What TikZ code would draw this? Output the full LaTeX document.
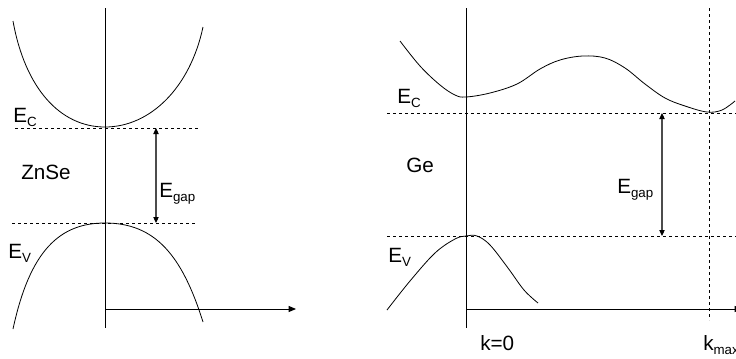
\documentclass[tikz,border=0pt]{standalone}
\usepackage{fontspec}
\setmainfont{Liberation Sans}
\usetikzlibrary{arrows.meta}
\newcommand{\lowsub}[1]{\raisebox{-0.45ex}{\fontsize{10}{10}\selectfont #1}}
\tikzset{
  axisline/.style={line width=0.65pt},
  axisarrow/.style={line width=0.65pt,-{Triangle[length=5.5pt,width=4.5pt]}},
  levelline/.style={line width=0.5pt,dash pattern=on 2.5pt off 2pt},
  bandcurve/.style={line width=0.6pt},
  gaparrow/.style={line width=0.8pt,draw=black!70,{Triangle[black,length=4.5pt,width=4pt]}-{Triangle[black,length=4.5pt,width=4pt]}},
  lbl/.style={inner sep=0pt,anchor=base west,font=\fontsize{15.5}{15.5}\selectfont}
}
\begin{document}
\begin{tikzpicture}[x=0.75pt,y=-0.75pt]
\useasboundingbox (0,0) rectangle (736,358);
\clip (0,0) rectangle (736,358);
% ---------- left panel (ZnSe) ----------
\coordinate (Ltop) at (105,8);
\coordinate (Lbot) at (105,328);
\coordinate (Lo) at (105,309);
\coordinate (Lx) at (296,309);
\draw[axisline] (Ltop) -- (Lbot);
\draw[axisarrow] (Lo) -- (Lx);
\coordinate (LECa) at (15,128); \coordinate (LECb) at (200,128);
\coordinate (LEVa) at (12,223); \coordinate (LEVb) at (197,223);
\draw[levelline] (LECa) -- (LECb);
\draw[levelline] (LEVa) -- (LEVb);
\coordinate (Lgt) at (156,128); \coordinate (Lgb) at (156,223);
\draw[gaparrow] (Lgt) -- (Lgb);
\draw[bandcurve] (13,21) .. controls (25,88) and (60,127) .. (105,127)
  .. controls (150,127) and (190,88) .. (203,27);
\draw[bandcurve] (13,329) .. controls (30,250) and (60,223) .. (105,223)
  .. controls (155,223) and (182,255) .. (203,322);
\node[lbl] (lec) at (13,122) {E\lowsub{C}};
\node[lbl] (lzn) at (21,179) {ZnSe};
\node[lbl] (leg) at (159,197) {E\lowsub{gap}};
\node[lbl] (lev) at (8,258) {E\lowsub{V}};
% ---------- right panel (Ge) ----------
\coordinate (Rtop) at (466,8);
\coordinate (Rbot) at (466,328);
\coordinate (Ro) at (466,309);
\coordinate (Rx) at (742,309);
\draw[axisline] (Rtop) -- (Rbot);
\draw[axisarrow] (Ro) -- (Rx);
\coordinate (Kt) at (709,8); \coordinate (Kb) at (709,320);
\draw[levelline] (Kt) -- (Kb);
\coordinate (RECa) at (387,113); \coordinate (RECb) at (736,113);
\coordinate (REVa) at (387,236); \coordinate (REVb) at (736,236);
\draw[levelline] (RECa) -- (RECb);
\draw[levelline] (REVa) -- (REVb);
\coordinate (Rgt) at (662,113); \coordinate (Rgb) at (662,236);
\draw[gaparrow] (Rgt) -- (Rgb);
\draw[bandcurve] plot[smooth,tension=0.6] coordinates {(400,41) (420,66) (440,85) (455,95) (466,97) (490,93) (517,84) (540,69) (560,60) (583,56) (605,58) (625,68) (645,84) (665,98) (685,106) (707,112) (722,110) (735,101)};
\draw[bandcurve] plot[smooth,tension=0.6] coordinates {(387,310) (410,281) (435,253) (455,239) (466,236) (477,236) (490,245) (508,268) (524,290) (538,303)};
\node[lbl] (rec) at (397,103) {E\lowsub{C}};
\node[lbl] (rge) at (406,172) {Ge};
\node[lbl] (reg) at (617,193) {E\lowsub{gap}};
\node[lbl] (rev) at (388,262) {E\lowsub{V}};
\node[lbl] (k0) at (480,350) {k=0};
\node[lbl] (km) at (703,350) {k\lowsub{max}};
\end{tikzpicture}
\end{document}
